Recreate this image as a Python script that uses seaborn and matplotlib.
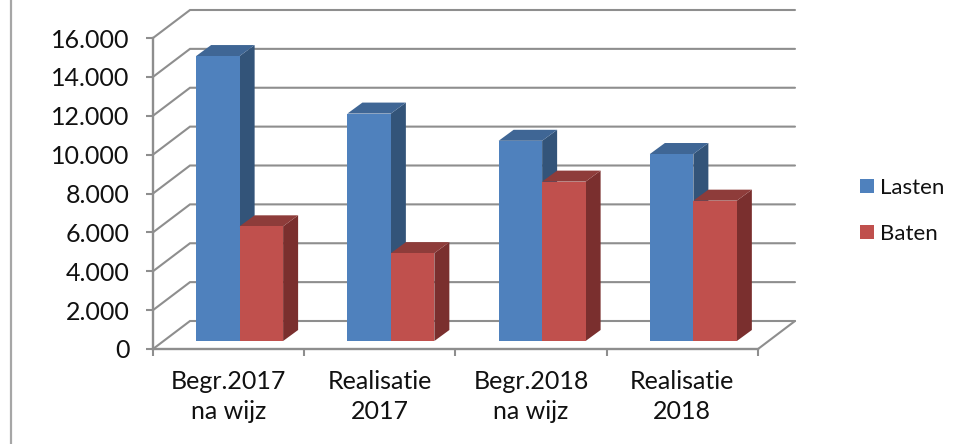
import matplotlib
matplotlib.use("Agg")
import matplotlib.pyplot as plt
from matplotlib.patches import Polygon
from matplotlib.transforms import Affine2D
from matplotlib.lines import Line2D
import pandas as pd
import seaborn as sns

categories = ["Begr.2017\nna wijz", "Realisatie\n2017", "Begr.2018\nna wijz", "Realisatie\n2018"]
lasten = [14660, 11700, 10300, 9620]
baten = [5900, 4520, 8200, 7220]
y_ticks = [0, 2000, 4000, 6000, 8000, 10000, 12000, 14000, 16000]
y_labels = ["0", "2.000", "4.000", "6.000", "8.000", "10.000", "12.000", "14.000", "16.000"]

sns.set_theme(style="white")
plt.rcParams["font.family"] = ["Lato", "DejaVu Sans"]

W, H = 970, 444
fig = plt.figure(figsize=(W / 100, H / 100), dpi=100, facecolor="white")
L, R, B, T = 153, 758, 349, 38
ax = fig.add_axes([L / W, 1 - B / H, (R - L) / W, (B - T) / H])

df = pd.DataFrame({
    "cat": categories * 2,
    "val": lasten + baten,
    "serie": ["Lasten"] * 4 + ["Baten"] * 4,
})
sns.barplot(data=df, x="cat", y="val", hue="serie", hue_order=["Lasten", "Baten"],
            palette={"Lasten": "#4F81BD", "Baten": "#C0504D"}, width=0.575, gap=0,
            saturation=1, ax=ax, errorbar=None, linewidth=0)

ax.set_xlim(-0.5, 3.5)
ax.set_ylim(0, 16000)
ax.set_xlabel("")
ax.set_ylabel("")

px_x = (R - L) / 4
px_y = (B - T) / 16000
GRID = "#8E8E8E"
LW = 1.5

# wall and floor lines
wx, wy = 37 / px_x, 28 / px_y
for v in y_ticks:
    ax.plot([-0.5, -0.5 + wx, 3.5 + wx], [v, v + wy, v + wy], color=GRID, lw=LW,
            clip_on=False, zorder=1, solid_joinstyle="miter")
ax.plot([3.5, 3.5 + wx], [0, wy], color=GRID, lw=LW, clip_on=False, zorder=1)

# bars with depth
offset = ax.transData + Affine2D().translate(11, 8)
dx, dy = 15 / px_x, 11 / px_y
face = {0: ("#3F6695", "#335479"), 1: ("#8E3C3A", "#7A2F2E")}
n = len(categories)
for i, bar in enumerate(ax.patches[:2 * n]):
    s = i // n
    x0, w, h = bar.get_x(), bar.get_width(), bar.get_height()
    z = 2 + s
    bar.set_transform(offset)
    bar.set_zorder(z + 0.2)
    bar.set_clip_on(False)
    top = Polygon([(x0, h), (x0 + dx, h + dy), (x0 + w + dx, h + dy), (x0 + w, h)],
                  closed=True, fc=face[s][0], ec="none", transform=offset, clip_on=False, zorder=z)
    side = Polygon([(x0 + w, 0), (x0 + w + dx, dy), (x0 + w + dx, h + dy), (x0 + w, h)],
                   closed=True, fc=face[s][1], ec="none", transform=offset, clip_on=False, zorder=z)
    ax.add_patch(side)
    ax.add_patch(top)

# axes
sns.despine(ax=ax, top=True, right=True)
for sp in ("left", "bottom"):
    ax.spines[sp].set_color(GRID)
    ax.spines[sp].set_linewidth(LW + 0.2)
    ax.spines[sp].set_zorder(1.5)

ax.set_yticks(y_ticks, y_labels)
ax.tick_params(axis="y", which="major", length=5, width=LW, color=GRID, pad=12,
               labelsize=18, labelcolor="#111111", left=True)
ax.set_xticks([-0.5, 0.5, 1.5, 2.5, 3.5], [""] * 5)
ax.set_xticks(range(n), categories, minor=True)
ax.tick_params(axis="x", which="major", length=5, width=LW, color=GRID, bottom=True)
ax.tick_params(axis="x", which="minor", length=0, pad=15, labelsize=18, labelcolor="#111111")
for t in ax.get_xticklabels(minor=True):
    t.set_linespacing(1.36)

handles, labels = ax.get_legend_handles_labels()
ax.legend(handles, labels, loc="center left", bbox_to_anchor=(840 / W, 1 - 211 / H),
          bbox_transform=fig.transFigure, frameon=False, fontsize=16,
          handlelength=0.63, handleheight=0.63, handletextpad=0.25, labelspacing=1.17,
          labelcolor="#111111")

# outer border on the left
fig.add_artist(Line2D([11 / W, 11 / W], [0, 1], color="#A6A6A6", lw=1.6))

fig.savefig("out.png", dpi=100, facecolor="white")
